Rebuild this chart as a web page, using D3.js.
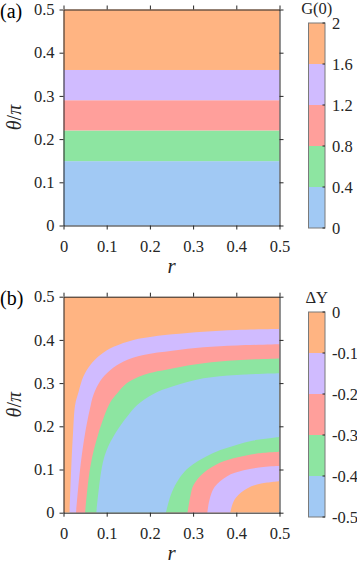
<!DOCTYPE html>
<html>
<head>
<meta charset="utf-8">
<script src="https://cdn.jsdelivr.net/npm/d3@7"></script>
<style>
  body { margin: 0; background: #fff; }
  svg { display: block; font-family: "Liberation Serif", "Times New Roman", Times, serif; }
</style>
</head>
<body>
<div id="chart"></div>
<script>
// shared ticks and colours
const rTicks = [0, 0.1, 0.2, 0.3, 0.4, 0.5];
const thetaTicks = [0, 0.1, 0.2, 0.3, 0.4, 0.5];
const bandColors = ['#A1C9F4', '#8DE5A1', '#FF9F9B', '#D0BBFF', '#FFB482'];

// panel (a): G(0), depends on theta only
const gLevels = [0, 0.4, 0.8, 1.2, 1.6, 2];
const gLabels = ['0', '0.4', '0.8', '1.2', '1.6', '2'];
// theta/pi where G(0) crosses 0.4, 0.8, 1.2, 1.6
const gBoundary = [0.149, 0.22, 0.29, 0.36];

// panel (b): Delta Y
const dyLevels = [-0.5, -0.4, -0.3, -0.2, -0.1, 0];
const dyLabels = ['-0.5', '-0.4', '-0.3', '-0.2', '-0.1', '0'];
// contour lines, [r, theta/pi]
// upper-left branch of each level
const upper01 = [[0.014, 0], [0.018, 0.106], [0.022, 0.184], [0.027, 0.25], [0.035, 0.28], [0.046, 0.315], [0.062, 0.342], [0.085, 0.365], [0.116, 0.384], [0.162, 0.400], [0.208, 0.408], [0.252, 0.413], [0.324, 0.419], [0.401, 0.423], [0.5, 0.425]];
const upper02 = [[0.029, 0], [0.039, 0.106], [0.050, 0.184], [0.063, 0.249], [0.069, 0.272], [0.085, 0.305], [0.108, 0.330], [0.139, 0.350], [0.185, 0.365], [0.252, 0.375], [0.324, 0.383], [0.401, 0.387], [0.5, 0.390]];
const upper03 = [[0.050, 0], [0.062, 0.106], [0.081, 0.184], [0.108, 0.255], [0.124, 0.276], [0.147, 0.300], [0.185, 0.319], [0.252, 0.334], [0.324, 0.346], [0.401, 0.353], [0.5, 0.357]];
const upper04 = [[0.076, 0], [0.089, 0.106], [0.100, 0.145], [0.120, 0.184], [0.147, 0.222], [0.170, 0.249], [0.208, 0.275], [0.252, 0.292], [0.324, 0.311], [0.401, 0.319], [0.5, 0.323]];
// lower-right branch of each level
const lower01 = [[0.386, 0], [0.392, 0.022], [0.401, 0.037], [0.425, 0.056], [0.455, 0.067], [0.5, 0.073]];
const lower02 = [[0.333, 0], [0.338, 0.03], [0.350, 0.060], [0.378, 0.084], [0.417, 0.098], [0.463, 0.106], [0.5, 0.108]];
const lower03 = [[0.287, 0], [0.294, 0.04], [0.301, 0.064], [0.324, 0.092], [0.363, 0.116], [0.401, 0.128], [0.448, 0.137], [0.5, 0.141]];
const lower04 = [[0.237, 0], [0.248, 0.04], [0.262, 0.07], [0.28, 0.095], [0.30, 0.112], [0.326, 0.128], [0.363, 0.145], [0.40, 0.157], [0.44, 0.167], [0.5, 0.175]];

const W = 357, H = 564;
const plotLeft = 63.5, plotSize = 216;
const ink = '#262626';
const serif = '"Liberation Serif", "Times New Roman", Times, serif';

const svg = d3.select('#chart').append('svg')
    .attr('width', W)
    .attr('height', H);

const x = d3.scaleLinear().domain([0, 0.5]).range([plotLeft, plotLeft + plotSize]);

function drawFrame(g, y, top, tag) {
    const fmt = d => d === 0 ? '0' : d3.format('.1f')(d);
    const bottom = top + plotSize;
    g.append('g')
        .attr('transform', `translate(0,${bottom})`)
        .call(d3.axisBottom(x).tickValues(rTicks).tickSize(4).tickSizeOuter(0).tickPadding(11).tickFormat(fmt));
    g.append('g')
        .attr('transform', `translate(0,${top})`)
        .call(d3.axisTop(x).tickValues(rTicks).tickSize(4).tickSizeOuter(0).tickFormat(''));
    g.append('g')
        .attr('transform', `translate(${plotLeft},0)`)
        .call(d3.axisLeft(y).tickValues(thetaTicks).tickSize(4).tickSizeOuter(0).tickPadding(5).tickFormat(fmt));
    g.append('g')
        .attr('transform', `translate(${plotLeft + plotSize},0)`)
        .call(d3.axisRight(y).tickValues(thetaTicks).tickSize(4).tickSizeOuter(0).tickFormat(''));
    g.selectAll('.domain').attr('stroke', ink);
    g.selectAll('.tick line').attr('stroke', ink);
    g.selectAll('g').attr('font-family', serif);
    g.selectAll('.tick text')
        .attr('fill', ink)
        .style('font-size', '16.5px');

    // axis titles
    g.append('text')
        .attr('x', plotLeft + plotSize / 2)
        .attr('y', bottom + 47)
        .attr('text-anchor', 'middle')
        .style('font-size', '21px')
        .style('font-style', 'italic')
        .attr('fill', ink)
        .text('r');
    const yl = g.append('text')
        .attr('transform', `translate(21,${top + plotSize / 2}) rotate(-90)`)
        .attr('text-anchor', 'middle')
        .style('font-size', '20px')
        .attr('fill', ink);
    yl.append('tspan').style('font-style', 'italic').text('θ');
    yl.append('tspan').text('/');
    yl.append('tspan').style('font-style', 'italic').text('π');

    g.append('text')
        .attr('x', 0)
        .attr('y', top + 8)
        .style('font-size', '20px')
        .attr('fill', '#000')
        .text(tag);
}

function drawColorbar(g, levels, labels, title, top) {
    const cbLeft = 308.5, cbWidth = 16.5, cbHeight = 205;
    const cy = d3.scaleLinear().domain([levels[0], levels[levels.length - 1]]).range([top + cbHeight, top]);
    g.selectAll('rect.cbband')
        .data(d3.range(levels.length - 1))
        .enter()
        .append('rect')
        .attr('class', 'cbband')
        .attr('x', cbLeft)
        .attr('y', i => cy(levels[i + 1]))
        .attr('width', cbWidth)
        .attr('height', i => cy(levels[i]) - cy(levels[i + 1]))
        .attr('fill', i => bandColors[i]);
    g.append('rect')
        .attr('x', cbLeft)
        .attr('y', top)
        .attr('width', cbWidth)
        .attr('height', cbHeight)
        .attr('fill', 'none')
        .attr('stroke', '#7a7a7a')
        .attr('stroke-width', 1);
    g.selectAll('line.cbtick')
        .data(levels)
        .enter()
        .append('line')
        .attr('class', 'cbtick')
        .attr('x1', cbLeft + cbWidth - 2.5)
        .attr('x2', cbLeft + cbWidth)
        .attr('y1', d => cy(d))
        .attr('y2', d => cy(d))
        .attr('stroke', ink);
    g.selectAll('text.cblab')
        .data(levels)
        .enter()
        .append('text')
        .attr('class', 'cblab')
        .attr('x', cbLeft + cbWidth + 7)
        .attr('y', d => cy(d))
        .attr('dy', '0.35em')
        .style('font-size', '16.5px')
        .attr('fill', ink)
        .text((d, i) => labels[i]);
    g.append('text')
        .attr('x', cbLeft + cbWidth / 2)
        .attr('y', top - 9)
        .attr('text-anchor', 'middle')
        .style('font-size', '16.5px')
        .attr('fill', ink)
        .text(title);
}

// ---- panel (a)
const topA = 9.5;
const yA = d3.scaleLinear().domain([0, 0.5]).range([topA + plotSize, topA]);
const gA = svg.append('g');
const edgesA = [0].concat(gBoundary, [0.5]);
gA.selectAll('rect.band')
    .data(d3.range(edgesA.length - 1))
    .enter()
    .append('rect')
    .attr('class', 'band')
    .attr('x', x(0))
    .attr('width', x(0.5) - x(0))
    .attr('y', i => yA(edgesA[i + 1]))
    .attr('height', i => yA(edgesA[i]) - yA(edgesA[i + 1]))
    .attr('fill', i => bandColors[i]);
drawFrame(gA, yA, topA, '(a)');
drawColorbar(gA, gLevels, gLabels, 'G(0)', 23);

// ---- panel (b)
const topB = 296.7;
const yB = d3.scaleLinear().domain([0, 0.5]).range([topB + plotSize, topB]);
const gB = svg.append('g');
svg.append('defs').append('clipPath').attr('id', 'clipB')
    .append('rect')
    .attr('x', x(0)).attr('y', yB(0.5))
    .attr('width', x(0.5) - x(0)).attr('height', yB(0) - yB(0.5));

const line = d3.line()
    .x(d => x(d[0]))
    .y(d => yB(d[1]))
    .curve(d3.curveCatmullRom.alpha(0.5));

const plotB = gB.append('g').attr('clip-path', 'url(#clipB)');
plotB.append('rect')
    .attr('x', x(0)).attr('y', yB(0.5))
    .attr('width', x(0.5) - x(0)).attr('height', yB(0) - yB(0.5))
    .attr('fill', bandColors[4]);

// region below each level: upper branch, then right edge, lower branch back, bottom edge
const regions = [
    { upper: upper01, lower: lower01, color: bandColors[3] },
    { upper: upper02, lower: lower02, color: bandColors[2] },
    { upper: upper03, lower: lower03, color: bandColors[1] },
    { upper: upper04, lower: lower04, color: bandColors[0] }
];
plotB.selectAll('path.region')
    .data(regions)
    .enter()
    .append('path')
    .attr('class', 'region')
    .attr('d', d => line(d.upper) + line(d.lower.slice().reverse()).replace(/^M/, 'L') + 'Z')
    .attr('fill', d => d.color);

drawFrame(gB, yB, topB, '(b)');
drawColorbar(gB, dyLevels, dyLabels, 'ΔY', 312);
</script>
</body>
</html>
